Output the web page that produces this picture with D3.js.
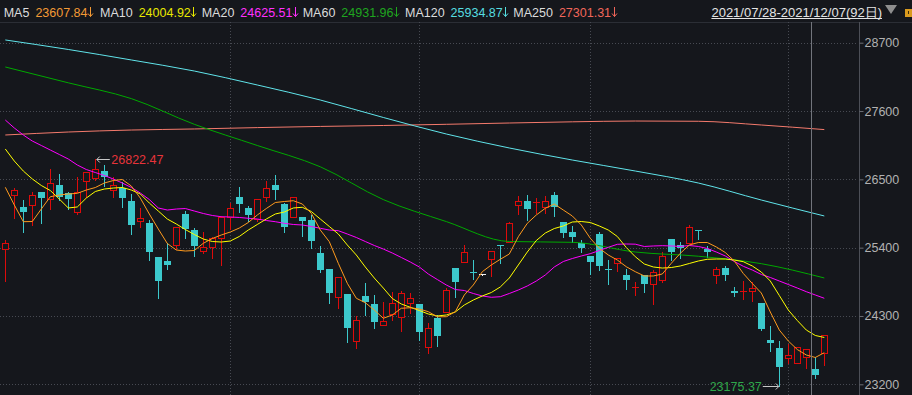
<!DOCTYPE html>
<html>
<head>
<meta charset="utf-8">
<script src="https://cdn.jsdelivr.net/npm/d3@7"></script>
<style>
html, body { margin:0; padding:0; background:#15171c; overflow:hidden; }
svg { display:block; }
</style>
</head>
<body>
<svg id="chart"></svg>
<script>
// daily candles 2021/07/28 - 2021/12/07 (92 sessions)
var openP = [25374,26248,26050,26087,26291,26183,26409,26285,25979,26478,
  26517,26634,26323,26365,26151,25829,25792,25245,25185,25448,
  25942,25684,25351,25415,25551,25889,26216,26038,25861,26220,
  26414,26098,25889,25889,25845,25314,25056,24610,24654,23892,
  24622,24493,24150,24332,24288,24514,24493,23796,24272,24359,
  25068,25174,25008,24971,25213,25440,25496,26092,26146,26124,
  26050,26248,25813,25652,25470,25271,25620,25060,25158,24960,
  24756,24960,24810,24874,25535,25438,25470,25682,25378,24955,
  25068,24707,24686,24707,24514,23913,23784,23623,23538,23644,
  23446,23709];
var highP = [25523,26356,26167,26301,26291,26666,26586,26301,26533,26613,
  26822.47,26731,26533,26462,26259,26034,25845,25245,25470,25728,
  25990,25712,25657,25576,25915,26114,26377,26076,26179,26473,
  26570,26124,26211,25889,25926,25422,25056,24923,24654,24300,
  24831,24638,24525,24681,24702,24665,24493,24182,24316,24746,
  25068,25443,25201,24980,25346,25440,25813,26232,26248,26195,
  26232,26301,25813,25749,25523,25271,25657,25201,25229,25052,
  24852,24960,25040,25330,25535,25491,25760,25682,25427,25093,
  25105,24771,24863,24847,24514,24139,23892,23849,23801,23773,
  23635,23994];
var lowP = [24868,25873,25657,25765,25792,26022,26167,26018,25937,26220,
  26489,26398,26216,26059,25620,25728,25201,24594,25052,25374,
  25560,25266,25309,25238,25121,25700,25969,25829,25834,26156,
  26179,25647,25889,25593,25399,25013,24514,24433,23886,23789,
  24321,24111,24150,24235,24063,24353,23913,23699,23822,24359,
  24610,25174,24890,24965,24949,25148,25486,25937,25845,25953,
  25953,25910,25576,25491,25335,24976,25040,24815,25029,24734,
  24638,24691,24493,24852,25201,25238,25470,25535,25245,24836,
  24879,24627,24573,24546,24074,23731,23175.37,23548,23538,23467,
  23306,23511];
var closeP = [25480,26324,25979,26243,26204,26436,26216,26188,26291,26613,
  26662,26542,26404,26204,25765,25873,25335,24868,25121,25728,
  25700,25427,25406,25551,25898,26034,26103,25921,26179,26356,
  26328,25737,26211,25829,25507,25045,24675,24923,24111,24230,
  24525,24208,24214,24504,24665,24585,24047,24102,23983,24718,
  24852,25325,24987,24971,25346,25436,25792,26146,26022,26135,
  26146,26059,25641,25572,25395,25174,25110,25052,25229,24884,
  24766,24820,25003,25266,25335,25399,25728,25676,25335,25052,
  24965,24665,24696,24750,24090,23870,23483,23672,23801,23764,
  23350,23994];

// short moving averages, one value per session
var ma5 = [26372,26087,25818,25821,26022,26220,26248,26264,26275,26328,
  26368,26441,26481,26497,26393,26199,25942,25700,25467,25362,
  25346,25354,25470,25547,25604,25652,25716,25805,25926,26030,
  26127,26143,26156,26103,25953,25684,25496,25148,24826,24585,
  24514,24396,24263,24316,24424,24433,24412,24369,24288,24288,
  24369,24638,24799,25013,25121,25213,25298,25576,25792,25926,
  26034,26103,26006,25910,25765,25551,25390,25282,25201,25093,
  25013,24944,24944,24976,25148,25309,25443,25483,25483,25411,
  25322,25185,24984,24823,24670,24364,24074,23897,23760,23672,
  23632,23709];
var ma10 = [26989,26795,26634,26506,26401,26320,26183,26039,26055,26199,
  26304,26344,26360,26369,26328,26264,26119,25990,25861,25781,
  25692,25612,25539,25499,25491,25507,25580,25684,25773,25861,
  25942,25974,26039,26050,25982,25861,25741,25620,25443,25282,
  25089,24911,24750,24581,24493,24440,24388,24332,24300,24316,
  24364,24477,24557,24622,24678,24767,24911,25121,25330,25515,
  25636,25708,25749,25813,25821,25805,25749,25684,25580,25402,
  25254,25137,25089,25072,25080,25105,25145,25185,25213,25217,
  25217,25201,25174,25105,25008,24863,24630,24396,24227,24074,
  23986,23954];
var ma20 = [27455,27327,27214,27117,27045,26972,26900,26827,26731,26658,
  26610,26562,26505,26441,26369,26280,26175,26039,26006,26022,
  26030,25990,25950,25918,25898,25894,25886,25873,25861,25837,
  25818,25792,25773,25765,25741,25712,25684,25673,25620,25564,
  25499,25435,25378,25314,25242,25169,25089,24976,24887,24799,
  24726,24710,24662,24622,24601,24610,24662,24718,24783,24863,
  24960,25089,25177,25225,25266,25303,25354,25406,25454,25459,
  25456,25419,25427,25432,25427,25419,25435,25419,25386,25330,
  25266,25177,25100,25040,24968,24920,24863,24807,24750,24691,
  24638,24585];

// long moving averages, read every 7 sessions
var longIdx = [0,7,14,21,28,35,42,49,56,63,70,77,84,91];
var ma60  = [28309,28054,27800,27386,27045,26702,26174,25820,25499,25486,25330,25262,25142,24912];
var ma120 = [28744,28591,28422,28244,28019,27777,27496,27230,27005,26811,26634,26441,26167,25910];
var ma250 = [27214,27262,27294,27311,27333,27352,27367,27386,27407,27426,27439,27435,27375,27301];

var yTicks = [23200,24300,25400,26500,27600,28700];
var monthStarts = [25,46,65,87];   // Sep, Oct, Nov, Dec

var maNames  = ["MA5","MA10","MA20","MA60","MA120","MA250"];
var maLabels = ["23607.84","24004.92","24625.51","24931.96","25934.87","27301.31"];
var rangeLabel = "2021/07/28-2021/12/07(92日)";

var maColors = ["#ff9a1c","#ffff00","#ff00ff","#00a800","#60e4ea","#f47a6c"];
var legendColors = ["#f39a35","#e8e800","#ff30ff","#1fa51f","#55dde0","#f0665a"];
var legendX = [3.7,100,201.7,302.7,405,513.3];

var W = 912, H = 395;
var bg = "#15171c";
var upColor = "#dd0b0b", downColor = "#3cc9cc";
var font = "'Liberation Sans', Arial, sans-serif";
var plotTop = 22, axisX = 859.5, cursorX = 811.5;

var svg = d3.select("#chart").attr("width", W).attr("height", H);
svg.append("rect").attr("width", W).attr("height", H).attr("fill", bg);

var n = closeP.length;
var xScale = d3.scalePoint().domain(d3.range(n)).range([5.3, 824.3]);
var yScale = d3.scaleLinear().domain([23200, 28700]).range([384.3, 42.7]);

var px = function(i) { return Math.round(xScale(i)); };
var py = function(v) { return Math.round(yScale(v)); };

// header separator
svg.append("line")
    .attr("x1", 0).attr("x2", W)
    .attr("y1", plotTop + 0.5).attr("y2", plotTop + 0.5)
    .attr("stroke", "#2b2e35");

// grid
svg.append("g").selectAll("line")
    .data(yTicks).enter().append("line")
    .attr("x1", 0).attr("x2", axisX - 2)
    .attr("y1", function(d) { return py(d) + 0.5; })
    .attr("y2", function(d) { return py(d) + 0.5; })
    .attr("stroke", "#474a52")
    .attr("stroke-dasharray", "1,2");

svg.append("g").selectAll("line")
    .data(monthStarts).enter().append("line")
    .attr("x1", function(d) { return px(d) + 0.5; })
    .attr("x2", function(d) { return px(d) + 0.5; })
    .attr("y1", plotTop).attr("y2", H)
    .attr("stroke", "#474a52")
    .attr("stroke-dasharray", "1,2");

// candles
var candles = d3.range(n).map(function(i) {
    return { i: i, o: openP[i], h: highP[i], l: lowP[i], c: closeP[i] };
});
var candleColor = function(d) {
    if (d.c > d.o) return upColor;
    if (d.c < d.o) return downColor;
    return "#f0f0f0";
};

var cg = svg.append("g").selectAll("g")
    .data(candles).enter().append("g");

cg.append("line")
    .attr("x1", function(d) { return px(d.i) + 0.5; })
    .attr("x2", function(d) { return px(d.i) + 0.5; })
    .attr("y1", function(d) { return py(d.h); })
    .attr("y2", function(d) { return py(d.l) + 1; })
    .attr("stroke", candleColor);

cg.each(function(d) {
    var g = d3.select(this);
    var top = py(Math.max(d.o, d.c));
    var bot = py(Math.min(d.o, d.c));
    var hgt = bot - top;
    var x = px(d.i) - 3;
    if (d.c > d.o && hgt > 2) {
        g.append("rect")
            .attr("x", x + 0.5).attr("y", top + 0.5)
            .attr("width", 6).attr("height", hgt)
            .attr("fill", bg).attr("stroke", upColor);
    } else {
        g.append("rect")
            .attr("x", x).attr("y", top)
            .attr("width", 7).attr("height", Math.max(1, hgt))
            .attr("fill", candleColor(d));
    }
});

// moving averages
var shortLine = d3.line()
    .x(function(d, i) { return xScale(i); })
    .y(function(d) { return yScale(d); });
var longLine = d3.line()
    .curve(d3.curveMonotoneX)
    .x(function(d, i) { return xScale(longIdx[i]); })
    .y(function(d) { return yScale(d); });

var maSeries = [
    { data: ma250, line: longLine, color: maColors[5] },
    { data: ma120, line: longLine, color: maColors[4] },
    { data: ma60,  line: longLine, color: maColors[3] },
    { data: ma20,  line: shortLine, color: maColors[2] },
    { data: ma10,  line: shortLine, color: maColors[1] },
    { data: ma5,   line: shortLine, color: maColors[0] }
];
svg.append("g").selectAll("path")
    .data(maSeries).enter().append("path")
    .attr("d", function(s) { return s.line(s.data); })
    .attr("fill", "none")
    .attr("stroke", function(s) { return s.color; })
    .attr("stroke-width", 1);

// high / low marks
var iHigh = d3.maxIndex(highP), iLow = d3.minIndex(lowP);
var hx = xScale(iHigh) + 1.5, hy = py(highP[iHigh]) + 0.5;
svg.append("path")
    .attr("d", "M" + (hx + 13) + "," + hy + "H" + hx + "M" + (hx + 3) + "," + (hy - 3) + "L" + hx + "," + hy + "L" + (hx + 3) + "," + (hy + 3))
    .attr("fill", "none").attr("stroke", "#c8c8c8");
svg.append("text")
    .attr("x", hx + 14.5).attr("y", hy + 4.5)
    .attr("fill", "#e8343a").attr("font-size", "12.5px").attr("font-family", font)
    .text(d3.format(".2f")(highP[iHigh]));

var lx = xScale(iLow) - 0.5, ly = py(lowP[iLow]) + 0.5;
svg.append("path")
    .attr("d", "M" + (lx - 16) + "," + ly + "H" + lx + "M" + (lx - 3) + "," + (ly - 3) + "L" + lx + "," + ly + "L" + (lx - 3) + "," + (ly + 3))
    .attr("fill", "none").attr("stroke", "#c8c8c8");
svg.append("text")
    .attr("x", lx - 17).attr("y", ly + 4.5)
    .attr("text-anchor", "end")
    .attr("fill", "#2ea84a").attr("font-size", "12.5px").attr("font-family", font)
    .text(d3.format(".2f")(lowP[iLow]));

// cursor line
svg.append("line")
    .attr("x1", cursorX).attr("x2", cursorX)
    .attr("y1", plotTop).attr("y2", H)
    .attr("stroke", "#72757c");

// y axis
svg.append("line")
    .attr("x1", axisX).attr("x2", axisX)
    .attr("y1", plotTop).attr("y2", H)
    .attr("stroke", "#4c4f57");

var yAxis = d3.axisRight(yScale)
    .tickValues(yTicks)
    .tickSize(4)
    .tickSizeOuter(0)
    .tickPadding(1)
    .tickFormat(d3.format("d"));
var ag = svg.append("g")
    .attr("transform", "translate(" + axisX + ",0)")
    .call(yAxis);
ag.select(".domain").remove();
ag.selectAll(".tick line").attr("stroke", "#6a6d74");
ag.selectAll(".tick text")
    .attr("fill", "#b2b2b2")
    .attr("font-size", "12.5px")
    .attr("font-family", font);

// legend
var lg = svg.append("g").attr("font-family", font).attr("font-size", "12.5px");
maNames.forEach(function(name, k) {
    var t = lg.append("text")
        .attr("x", legendX[k]).attr("y", 16.5)
        .attr("fill", "#dcdcdc")
        .text(name);
    var vx = legendX[k] + t.node().getComputedTextLength() + 6;
    var v = lg.append("text")
        .attr("x", vx).attr("y", 16.5)
        .attr("fill", legendColors[k])
        .text(maLabels[k]);
    var ax = Math.round(vx + v.node().getComputedTextLength() + 2.5) + 0.5;
    lg.append("path")
        .attr("d", "M" + ax + ",7V16.5M" + (ax - 2.5) + ",13.5L" + ax + ",16.5L" + (ax + 2.5) + ",13.5")
        .attr("fill", "none")
        .attr("stroke", legendColors[k]);
});

// date range
var dt = svg.append("text")
    .attr("x", 882).attr("y", 16.5)
    .attr("text-anchor", "end")
    .attr("fill", "#e4e4e4")
    .attr("font-size", "13px")
    .attr("font-family", font)
    .text(rangeLabel);
var dw = dt.node().getComputedTextLength();
svg.append("line")
    .attr("x1", 882 - dw).attr("x2", 882)
    .attr("y1", 18.5).attr("y2", 18.5)
    .attr("stroke", "#e4e4e4");
svg.append("path")
    .attr("d", "M885,5H897L891,14Z")
    .attr("fill", "#8e8e8e");
svg.append("rect")
    .attr("x", 905).attr("y", 9).attr("width", 8).attr("height", 8)
    .attr("fill", "#d99a1e");
svg.append("rect")
    .attr("x", 908).attr("y", 11).attr("width", 1).attr("height", 3)
    .attr("fill", "#3a2a08");
</script>
</body>
</html>
